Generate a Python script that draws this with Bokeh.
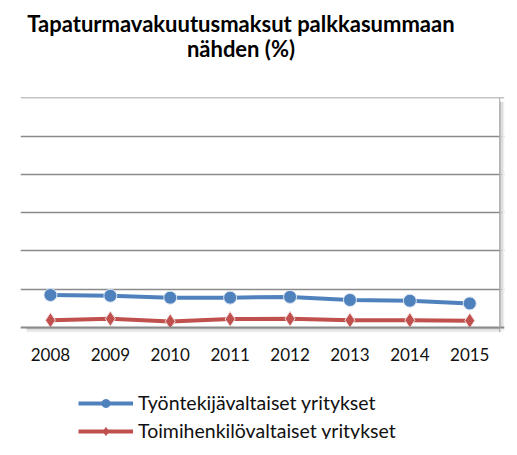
from bokeh.plotting import figure
from bokeh.layouts import column
from bokeh.models import (ColumnDataSource, FixedTicker, Range1d, Legend, LegendItem,
                          Label, Span, BoxAnnotation)
from bokeh.embed import file_html
from bokeh.resources import INLINE

years = [2008, 2009, 2010, 2011, 2012, 2013, 2014, 2015]
tyontekija = [0.85, 0.83, 0.78, 0.78, 0.80, 0.72, 0.70, 0.63]
toimihenkilo = [0.19, 0.23, 0.16, 0.22, 0.23, 0.19, 0.19, 0.18]
y_ticks = [0, 1, 2, 3, 4, 5, 6]
title_lines = ["Tapaturmavakuutusmaksut palkkasummaan", "nähden (%)"]
series_names = ["Työntekijävaltaiset yritykset", "Toimihenkilövaltaiset yritykset"]

BLUE = "#4F81BD"
RED = "#C0504D"
FONT = "Lato"
W = 505
NAN = float("nan")


def blank(height):
    f = figure(width=W, height=height, output_backend="svg", toolbar_location=None,
               x_range=Range1d(0, W), y_range=Range1d(0, height),
               min_border=0)
    f.axis.visible = False
    f.grid.grid_line_color = None
    f.outline_line_color = None
    return f


# ---- title block
t = blank(95)
for txt, yy in zip(title_lines, [95 - 23, 95 - 48]):
    t.add_layout(Label(x=230, y=yy, text=txt, text_align="center",
                       text_baseline="middle", text_font=FONT,
                       text_font_style="bold", text_font_size="22px",
                       text_color="#000000"))

# ---- chart
x_lo, x_hi = years[0] - 0.5, years[-1] + 0.5
sh_x, sh_y = 0.08, 0.13          # room for the drop shadow (data units)
p = figure(width=W, height=280, output_backend="svg", toolbar_location=None,
           x_range=Range1d(x_lo, x_hi + sh_x),
           y_range=Range1d(y_ticks[0] - sh_y, y_ticks[-1] + 0.01),
           min_border_left=20, min_border_right=1, min_border_top=2,
           min_border_bottom=43)
p.outline_line_color = None
p.yaxis.visible = False
p.ygrid.ticker = FixedTicker(ticks=y_ticks[1:])
p.ygrid.grid_line_color = "#8a8a8a"
p.ygrid.grid_line_width = 1.3
p.xgrid.grid_line_color = None

p.xaxis.ticker = FixedTicker(ticks=years)
p.xaxis.major_tick_line_color = None
p.xaxis.minor_tick_line_color = None
p.xaxis.axis_line_color = None
p.xaxis.major_label_text_font = FONT
p.xaxis.major_label_text_font_size = "17px"
p.xaxis.major_label_text_color = "#111111"
p.xaxis.major_label_standoff = 9

# drop shadow below and right of the plot area
for k, col in enumerate(["#c2c2c2", "#d9d9d9", "#eeeeee"]):
    p.add_layout(BoxAnnotation(left=x_lo + 0.1, right=x_hi + sh_x * k / 3,
                               top=-sh_y * k / 3, bottom=-sh_y * (k + 1) / 3,
                               fill_color=col, fill_alpha=1, line_color=None))
    p.add_layout(BoxAnnotation(left=x_hi + sh_x * k / 3, right=x_hi + sh_x * (k + 1) / 3,
                               top=y_ticks[-1] - 0.1, bottom=-sh_y * k / 3,
                               fill_color=col, fill_alpha=1, line_color=None))

p.add_layout(Span(location=0, dimension="width", line_color="#8a8a8a", line_width=2))
p.add_layout(Span(location=x_hi, dimension="height", line_color="#a8a8a8", line_width=1))

src = ColumnDataSource(dict(x=years, a=tyontekija, b=toimihenkilo))
p.line("x", "a", source=src, line_color=BLUE, line_width=4)
p.scatter("x", "a", source=src, marker="circle", size=13, fill_color=BLUE,
          line_color="#dce6f2", line_width=1)
p.line("x", "b", source=src, line_color=RED, line_width=4)
p.scatter("x", "b", source=src, marker="diamond", size=15, fill_color=RED,
          line_color="#f2dcdb", line_width=1)

# ---- legend block (legend-only renderers with no drawable points)
g = blank(64)
dummy = ColumnDataSource(dict(x=[NAN], y=[NAN]))
la = g.line("x", "y", source=dummy, line_color=BLUE, line_width=4)
ma = g.scatter("x", "y", source=dummy, marker="circle", size=8, fill_color=BLUE, line_color=BLUE)
lb = g.line("x", "y", source=dummy, line_color=RED, line_width=4)
mb = g.scatter("x", "y", source=dummy, marker="diamond", size=9, fill_color=RED, line_color=RED)
legend = Legend(items=[LegendItem(label=series_names[0], renderers=[la, ma]),
                       LegendItem(label=series_names[1], renderers=[lb, mb])],
                location=(58, -3), orientation="vertical",
                glyph_width=55, glyph_height=20, label_height=20,
                label_standoff=5, spacing=5, padding=0, margin=0,
                border_line_color=None, background_fill_alpha=0,
                label_text_font=FONT, label_text_font_size="19.5px",
                label_text_color="#111111")
g.add_layout(legend, "center")

layout = column(t, p, g, spacing=0)
open("out.html", "w").write(file_html(layout, INLINE))
